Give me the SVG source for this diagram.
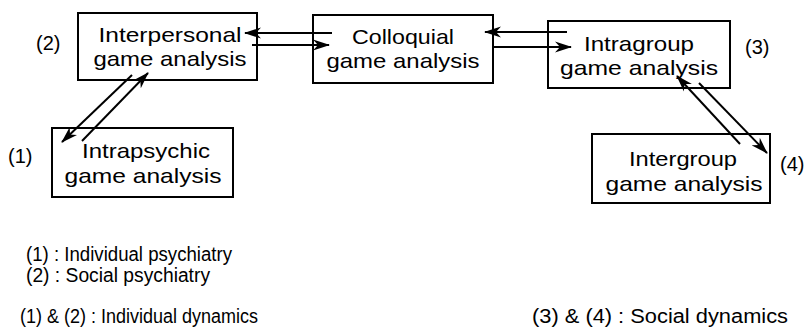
<svg xmlns="http://www.w3.org/2000/svg" width="812" height="335" viewBox="0 0 812 335">
<style>
.box{fill:#fff;stroke:#000;stroke-width:2}
.t{font-family:"Liberation Sans",Arial,sans-serif;font-size:21px;fill:#000;text-anchor:middle}
.l{font-family:"Liberation Sans",Arial,sans-serif;font-size:20px;fill:#000}
.c{stroke:#000;stroke-width:2;fill:none;marker-end:url(#ah)}
</style>
<defs>
<marker id="ah" markerUnits="userSpaceOnUse" viewBox="0 -6 17 12" refX="16" refY="0" markerWidth="17" markerHeight="12" orient="auto">
<path d="M17,0 L0,-5.5 L5,0 L0,5.5 Z" fill="#000"/>
</marker>
</defs>
<rect width="812" height="335" fill="#fff"/>
<g id="interpersonal">
<rect class="box" x="78" y="13" width="179" height="67"/>
<text class="t" x="170" y="42" textLength="143" lengthAdjust="spacingAndGlyphs">Interpersonal</text>
<text class="t" x="170" y="66" textLength="153" lengthAdjust="spacingAndGlyphs">game analysis</text>
</g>
<g id="colloquial">
<rect class="box" x="313" y="15" width="180" height="68"/>
<text class="t" x="403" y="44" textLength="102" lengthAdjust="spacingAndGlyphs">Colloquial</text>
<text class="t" x="403" y="68" textLength="153" lengthAdjust="spacingAndGlyphs">game analysis</text>
</g>
<g id="intragroup">
<rect class="box" x="548" y="21" width="182" height="67"/>
<text class="t" x="639" y="51" textLength="110" lengthAdjust="spacingAndGlyphs">Intragroup</text>
<text class="t" x="639" y="75" textLength="158" lengthAdjust="spacingAndGlyphs">game analysis</text>
</g>
<g id="intrapsychic">
<rect class="box" x="52" y="128" width="181" height="69"/>
<text class="t" x="146" y="158" textLength="128" lengthAdjust="spacingAndGlyphs">Intrapsychic</text>
<text class="t" x="143" y="183" textLength="157" lengthAdjust="spacingAndGlyphs">game analysis</text>
</g>
<g id="intergroup">
<rect class="box" x="592" y="134" width="178" height="69"/>
<text class="t" x="683" y="166" textLength="108" lengthAdjust="spacingAndGlyphs">Intergroup</text>
<text class="t" x="684" y="191" textLength="157" lengthAdjust="spacingAndGlyphs">game analysis</text>
</g>
<g id="connectors">
<line class="c" x1="332" y1="33" x2="245" y2="33"/>
<line class="c" x1="252" y1="45" x2="329" y2="45"/>
<line class="c" x1="567" y1="32" x2="485" y2="32"/>
<line class="c" x1="493" y1="47" x2="571" y2="47"/>
<line class="c" x1="132" y1="75" x2="62" y2="142"/>
<line class="c" x1="82" y1="141" x2="148" y2="73"/>
<line class="c" x1="740" y1="144" x2="677" y2="76"/>
<line class="c" x1="699" y1="83" x2="767" y2="153"/>
</g>
<g id="labels">
<text class="l" x="36" y="50">(2)</text>
<text class="l" x="8" y="163">(1)</text>
<text class="l" x="745" y="54">(3)</text>
<text class="l" x="780" y="171">(4)</text>
<text class="l" x="26" y="261" textLength="206" lengthAdjust="spacingAndGlyphs">(1) : Individual psychiatry</text>
<text class="l" x="26" y="282" textLength="184" lengthAdjust="spacingAndGlyphs">(2) : Social psychiatry</text>
<text class="l" x="20" y="323" textLength="238" lengthAdjust="spacingAndGlyphs">(1) &amp; (2) : Individual dynamics</text>
<text class="l" x="532" y="323" textLength="256" lengthAdjust="spacingAndGlyphs">(3) &amp; (4) : Social dynamics</text>
</g>
</svg>
